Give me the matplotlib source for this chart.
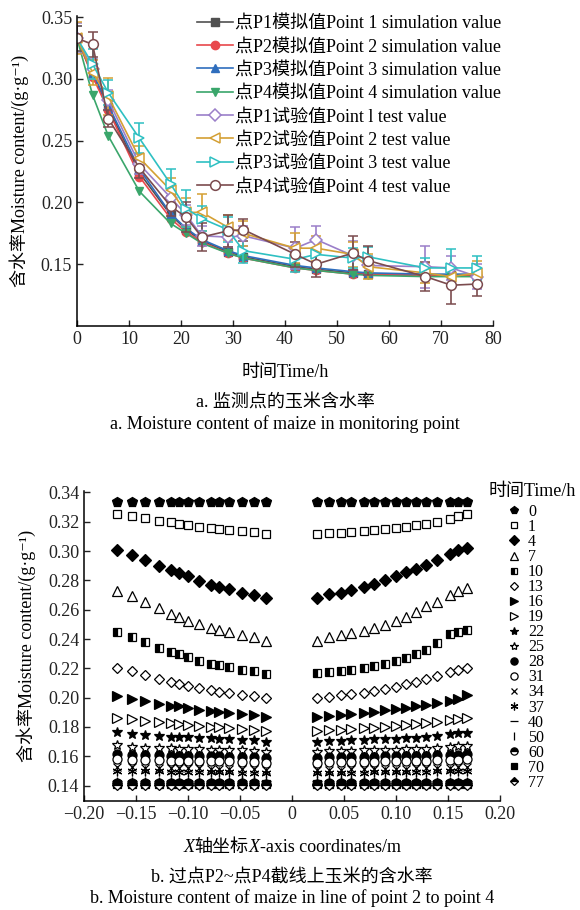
import matplotlib
matplotlib.use('Agg')
import matplotlib.pyplot as plt
from matplotlib.ticker import FuncFormatter
from matplotlib.offsetbox import TextArea, HPacker, AnchoredOffsetbox

plt.rcParams['font.family'] = ['Liberation Serif', 'Noto Sans CJK SC', 'DejaVu Serif']
plt.rcParams['axes.unicode_minus'] = True

# ---- figure a: moisture content at monitoring points ----
hours = [0, 3, 6, 12, 18, 21, 24, 29, 32, 42, 46, 53, 56, 67, 72, 77]

sim_p1 = [0.333, 0.303, 0.277, 0.224, 0.190, 0.178, 0.169, 0.160, 0.156, 0.148, 0.146, 0.143, 0.142, 0.141, 0.141, 0.141]
sim_p2 = [0.333, 0.302, 0.275, 0.221, 0.187, 0.176, 0.168, 0.159, 0.155, 0.147, 0.145, 0.142, 0.142, 0.141, 0.141, 0.141]
sim_p3 = [0.333, 0.305, 0.279, 0.227, 0.191, 0.179, 0.170, 0.161, 0.157, 0.149, 0.147, 0.144, 0.143, 0.142, 0.142, 0.142]
sim_p4 = [0.333, 0.287, 0.254, 0.209, 0.183, 0.175, 0.167, 0.159, 0.155, 0.147, 0.145, 0.142, 0.141, 0.140, 0.140, 0.140]

test_p1 = [0.333, 0.308, 0.283, 0.231, 0.204, 0.190, 0.173, 0.172, 0.173, 0.163, 0.170, 0.157, 0.149, 0.148, 0.147, 0.140]
test_p2 = [0.333, 0.305, 0.286, 0.236, 0.210, 0.192, 0.192, 0.180, 0.175, 0.163, 0.163, 0.158, 0.148, 0.143, 0.140, 0.143]
test_p3 = [0.333, 0.312, 0.289, 0.252, 0.215, 0.195, 0.187, 0.178, 0.161, 0.154, 0.158, 0.155, 0.156, 0.147, 0.147, 0.147]
test_p4 = [0.333, 0.328, 0.268, 0.228, 0.197, 0.188, 0.172, 0.177, 0.178, 0.158, 0.150, 0.159, 0.153, 0.140, 0.133, 0.134]

err_p1 = [0.012, 0.008, 0.008, 0.008, 0.010, 0.008, 0.008, 0.008, 0.008, 0.017, 0.011, 0.012, 0.008, 0.017, 0.010, 0.010]
err_p2 = [0.013, 0.010, 0.015, 0.010, 0.010, 0.012, 0.015, 0.010, 0.010, 0.012, 0.010, 0.010, 0.010, 0.008, 0.006, 0.010]
err_p3 = [0.010, 0.012, 0.010, 0.012, 0.012, 0.015, 0.010, 0.010, 0.010, 0.010, 0.010, 0.008, 0.008, 0.008, 0.015, 0.010]
err_p4 = [0.010, 0.010, 0.007, 0.008, 0.008, 0.012, 0.011, 0.013, 0.009, 0.010, 0.010, 0.014, 0.012, 0.012, 0.015, 0.010]

sim_labels = ['点P1模拟值Point 1 simulation value', '点P2模拟值Point 2 simulation value',
              '点P3模拟值Point 3 simulation value', '点P4模拟值Point 4 simulation value']
test_labels = ['点P1试验值Point l test value', '点P2试验值Point 2 test value',
               '点P3试验值Point 3 test value', '点P4试验值Point 4 test value']

# ---- figure b: moisture along the line P2-P4 ----
x_coord = [-0.168, -0.154, -0.141, -0.128, -0.116, -0.109, -0.100, -0.089, -0.078, -0.070, -0.061, -0.048, -0.037, -0.025,
           0.024, 0.036, 0.047, 0.057, 0.069, 0.079, 0.089, 0.100, 0.110, 0.119, 0.129, 0.139, 0.152, 0.160, 0.168]

m0 = [0.3335, 0.3335, 0.3335, 0.3335, 0.3335, 0.3335, 0.3335, 0.3335, 0.3335, 0.3335, 0.3335, 0.3335, 0.3335, 0.3335,
      0.3335, 0.3335, 0.3335, 0.3335, 0.3335, 0.3335, 0.3335, 0.3335, 0.3335, 0.3335, 0.3335, 0.3335, 0.3335, 0.3335, 0.3335]
m1 = [0.3255, 0.3240, 0.3225, 0.3208, 0.3197, 0.3188, 0.3179, 0.3167, 0.3160, 0.3153, 0.3147, 0.3137, 0.3131, 0.3120,
      0.3118, 0.3122, 0.3126, 0.3131, 0.3136, 0.3142, 0.3149, 0.3157, 0.3166, 0.3176, 0.3187, 0.3201, 0.3222, 0.3238, 0.3255]
m4 = [0.3010, 0.2975, 0.2941, 0.2900, 0.2868, 0.2850, 0.2827, 0.2797, 0.2770, 0.2754, 0.2740, 0.2717, 0.2701, 0.2679,
      0.2683, 0.2706, 0.2717, 0.2736, 0.2754, 0.2774, 0.2800, 0.2832, 0.2854, 0.2879, 0.2907, 0.2941, 0.2982, 0.3010, 0.3021]
m7 = [0.2731, 0.2697, 0.2656, 0.2615, 0.2571, 0.2553, 0.2526, 0.2500, 0.2478, 0.2462, 0.2446, 0.2427, 0.2411, 0.2389,
      0.2389, 0.2416, 0.2430, 0.2443, 0.2457, 0.2473, 0.2496, 0.2526, 0.2553, 0.2587, 0.2626, 0.2656, 0.2701, 0.2731, 0.2747]
m10 = [0.2446, 0.2416, 0.2377, 0.2341, 0.2313, 0.2297, 0.2280, 0.2252, 0.2233, 0.2222, 0.2210, 0.2192, 0.2181, 0.2163,
       0.2165, 0.2172, 0.2181, 0.2188, 0.2199, 0.2213, 0.2229, 0.2247, 0.2270, 0.2295, 0.2325, 0.2370, 0.2434, 0.2448, 0.2460]
m13 = [0.2205, 0.2180, 0.2155, 0.2130, 0.2105, 0.2093, 0.2078, 0.2063, 0.2050, 0.2042, 0.2033, 0.2020, 0.2010, 0.1995,
       0.1995, 0.2005, 0.2015, 0.2025, 0.2035, 0.2045, 0.2058, 0.2075, 0.2092, 0.2110, 0.2130, 0.2150, 0.2175, 0.2190, 0.2205]
m16 = [0.2010, 0.1994, 0.1978, 0.1959, 0.1946, 0.1941, 0.1930, 0.1918, 0.1909, 0.1902, 0.1898, 0.1891, 0.1882, 0.1868,
       0.1868, 0.1874, 0.1880, 0.1888, 0.1897, 0.1905, 0.1913, 0.1925, 0.1932, 0.1941, 0.1950, 0.1965, 0.1980, 0.1993, 0.2015]
m19 = [0.1861, 0.1852, 0.1841, 0.1834, 0.1827, 0.1822, 0.1816, 0.1808, 0.1802, 0.1797, 0.1793, 0.1786, 0.1781, 0.1772,
       0.1772, 0.1776, 0.1781, 0.1786, 0.1790, 0.1795, 0.1800, 0.1806, 0.1812, 0.1818, 0.1825, 0.1834, 0.1848, 0.1855, 0.1862]
m22 = [0.1765, 0.1752, 0.1748, 0.1740, 0.1735, 0.1733, 0.1730, 0.1726, 0.1722, 0.1720, 0.1718, 0.1714, 0.1710, 0.1700,
       0.1700, 0.1703, 0.1706, 0.1709, 0.1712, 0.1715, 0.1718, 0.1721, 0.1724, 0.1727, 0.1730, 0.1736, 0.1752, 0.1758, 0.1762]
m25 = [0.1674, 0.1664, 0.1660, 0.1657, 0.1654, 0.1652, 0.1650, 0.1648, 0.1646, 0.1645, 0.1644, 0.1641, 0.1638, 0.1630,
       0.1630, 0.1633, 0.1636, 0.1638, 0.1640, 0.1642, 0.1644, 0.1646, 0.1648, 0.1650, 0.1652, 0.1655, 0.1664, 0.1668, 0.1672]
m28 = [0.1615, 0.1612, 0.1610, 0.1607, 0.1605, 0.1604, 0.1603, 0.1601, 0.1600, 0.1599, 0.1598, 0.1596, 0.1594, 0.1590,
       0.1590, 0.1592, 0.1594, 0.1596, 0.1597, 0.1598, 0.1600, 0.1601, 0.1602, 0.1603, 0.1605, 0.1607, 0.1610, 0.1612, 0.1615]
m31 = [0.1580, 0.1577, 0.1575, 0.1573, 0.1571, 0.1570, 0.1569, 0.1568, 0.1567, 0.1566, 0.1565, 0.1563, 0.1561, 0.1556,
       0.1556, 0.1558, 0.1560, 0.1562, 0.1563, 0.1564, 0.1566, 0.1567, 0.1568, 0.1569, 0.1570, 0.1572, 0.1575, 0.1577, 0.1580]
m34 = [0.1528, 0.1525, 0.1523, 0.1521, 0.1520, 0.1519, 0.1518, 0.1517, 0.1516, 0.1515, 0.1514, 0.1512, 0.1510, 0.1505,
       0.1505, 0.1507, 0.1509, 0.1511, 0.1512, 0.1513, 0.1514, 0.1515, 0.1516, 0.1517, 0.1518, 0.1520, 0.1523, 0.1525, 0.1528]
m37 = [0.1502, 0.1500, 0.1498, 0.1497, 0.1496, 0.1495, 0.1494, 0.1493, 0.1492, 0.1491, 0.1490, 0.1489, 0.1487, 0.1483,
       0.1483, 0.1485, 0.1487, 0.1488, 0.1489, 0.1490, 0.1491, 0.1492, 0.1493, 0.1494, 0.1495, 0.1497, 0.1498, 0.1500, 0.1502]
m40 = [0.1433, 0.1433, 0.1432, 0.1432, 0.1432, 0.1432, 0.1432, 0.1431, 0.1431, 0.1431, 0.1431, 0.1431, 0.1430, 0.1430,
       0.1430, 0.1430, 0.1431, 0.1431, 0.1431, 0.1431, 0.1431, 0.1431, 0.1432, 0.1432, 0.1432, 0.1432, 0.1432, 0.1433, 0.1433]
m50 = [0.1426, 0.1426, 0.1425, 0.1425, 0.1425, 0.1425, 0.1425, 0.1425, 0.1425, 0.1425, 0.1425, 0.1425, 0.1424, 0.1424,
       0.1424, 0.1424, 0.1425, 0.1425, 0.1425, 0.1425, 0.1425, 0.1425, 0.1425, 0.1425, 0.1425, 0.1425, 0.1425, 0.1426, 0.1426]
m60 = [0.1416, 0.1416, 0.1416, 0.1415, 0.1415, 0.1415, 0.1415, 0.1415, 0.1415, 0.1415, 0.1415, 0.1415, 0.1415, 0.1414,
       0.1414, 0.1415, 0.1415, 0.1415, 0.1415, 0.1415, 0.1415, 0.1415, 0.1415, 0.1415, 0.1415, 0.1415, 0.1416, 0.1416, 0.1416]
m70 = [0.1411, 0.1411, 0.1410, 0.1410, 0.1410, 0.1410, 0.1410, 0.1410, 0.1410, 0.1410, 0.1410, 0.1410, 0.1410, 0.1409,
       0.1409, 0.1410, 0.1410, 0.1410, 0.1410, 0.1410, 0.1410, 0.1410, 0.1410, 0.1410, 0.1410, 0.1410, 0.1410, 0.1411, 0.1411]
m77 = [0.1404, 0.1404, 0.1403, 0.1403, 0.1403, 0.1403, 0.1403, 0.1403, 0.1403, 0.1403, 0.1403, 0.1403, 0.1403, 0.1402,
       0.1402, 0.1403, 0.1403, 0.1403, 0.1403, 0.1403, 0.1403, 0.1403, 0.1403, 0.1403, 0.1403, 0.1403, 0.1403, 0.1404, 0.1404]

time_labels = ['0', '1', '4', '7', '10', '13', '16', '19', '22', '25', '28', '31', '34', '37', '40', '50', '60', '70', '77']
profiles = [m0, m1, m4, m7, m10, m13, m16, m19, m22, m25, m28, m31, m34, m37, m40, m50, m60, m70, m77]

# marker, fill style for each time
marker_styles = [('p', 'full'), ('s', 'none'), ('D', 'full'), ('^', 'none'), ('s', 'left'),
                 ('D', 'none'), ('>', 'full'), ('>', 'none'), ('*', 'full'), ('*', 'none'),
                 ('o', 'full'), ('o', 'none'), ('x', 'full'), ((6, 2, 0), 'full'), ('_', 'full'),
                 ('|', 'full'), ('o', 'top'), ('s', 'full'), ('D', 'top')]
marker_sizes = [7, 5.5, 6, 6.5, 5.5, 5.5, 6.5, 6.5, 7.5, 7.5, 6.5, 6.5, 6, 7, 7, 7, 6.5, 5.5, 5.5]

ylabel_text = '含水率Moisture content/(g·g\u207b\u00b9)'


def style_axes(ax):
    for side in ['top', 'right']:
        ax.spines[side].set_visible(False)
    for side in ['left', 'bottom']:
        ax.spines[side].set_linewidth(1.1)
    ax.tick_params(direction='in', length=4, width=1.0, labelsize=13, colors='#222222')


fig = plt.figure(figsize=(5.8, 9.1), dpi=100)

# ---------------- top chart ----------------
ax1 = fig.add_axes([77 / 580, 1 - 326 / 910, 416 / 580, 310 / 910])
style_axes(ax1)

legend_handles = []
sim_series = [sim_p1, sim_p2, sim_p3, sim_p4]
sim_colors = ['#505050', '#e8484c', '#2f6ebd', '#3aa66b']
sim_markers = ['s', 'o', '^', 'v']
for vals, col, mk, lab in zip(sim_series, sim_colors, sim_markers, sim_labels):
    line, = ax1.plot(hours, vals, color=col, marker=mk, markersize=6, linewidth=1.2, label=lab)
    legend_handles.append(line)

test_series = [test_p1, test_p2, test_p3, test_p4]
test_errs = [err_p1, err_p2, err_p3, err_p4]
test_colors = ['#9b7fc9', '#d4a034', '#2ec0c2', '#7b4b4e']
test_markers = ['D', '<', '>', 'o']
for vals, errs, col, mk, lab in zip(test_series, test_errs, test_colors, test_markers, test_labels):
    cont = ax1.errorbar(hours, vals, yerr=errs, color=col, marker=mk, markersize=7 if mk != 'D' else 6,
                        markerfacecolor='white', markeredgewidth=1.1, linewidth=1.2,
                        capsize=3.5, elinewidth=1.2, capthick=1.2, label=lab)
    legend_handles.append(cont.lines[0])

ax1.set_xlim(0, 80)
ax1.set_ylim(0.1, 0.351)
ax1.set_xticks([0, 10, 20, 30, 40, 50, 60, 70, 80])
ax1.set_yticks([0.15, 0.20, 0.25, 0.30, 0.35])
ax1.yaxis.set_major_formatter(FuncFormatter(lambda v, p: f'{v:.2f}'))
ax1.set_xlabel('时间Time/h', fontsize=13)
ax1.xaxis.set_label_coords(0.5, -0.15)
ax1.xaxis.label.set_va('center')
ax1.set_ylabel(ylabel_text, fontsize=13)
ax1.yaxis.set_label_coords(-0.14, 0.5)
ax1.yaxis.label.set_va('center')

ax1.legend(legend_handles, sim_labels + test_labels, loc='upper left', bbox_to_anchor=(197 / 580, 1 - 15 / 910),
           bbox_transform=fig.transFigure, frameon=False, fontsize=13,
           handlelength=2.0, handletextpad=0.1, labelspacing=0.35, borderpad=0, borderaxespad=0)

fig.text(285 / 580, 1 - 402 / 910, 'a. 监测点的玉米含水率', ha='center', va='center', fontsize=13)
fig.text(285 / 580, 1 - 424 / 910, 'a. Moisture content of maize in monitoring point',
         ha='center', va='center', fontsize=13)

# ---------------- bottom chart ----------------
ax2 = fig.add_axes([84 / 580, 1 - 801 / 910, 416 / 580, 310 / 910])
style_axes(ax2)

for vals, (mk, fs), ms, lab in zip(profiles, marker_styles, marker_sizes, time_labels):
    if fs == 'none':
        ax2.plot(x_coord, vals, linestyle='none', marker=mk, markersize=ms, markerfacecolor='white',
                 markeredgecolor='black', markeredgewidth=0.9, label=lab)
    else:
        ax2.plot(x_coord, vals, linestyle='none', marker=mk, markersize=ms, fillstyle=fs, color='black',
                 markerfacecoloralt='white', markeredgewidth=0.9, label=lab)

ax2.set_xlim(-0.2, 0.2)
ax2.set_ylim(0.1295, 0.341)
ax2.set_xticks([-0.20, -0.15, -0.10, -0.05, 0, 0.05, 0.10, 0.15, 0.20])
ax2.set_yticks([0.14, 0.16, 0.18, 0.20, 0.22, 0.24, 0.26, 0.28, 0.30, 0.32, 0.34])
ax2.xaxis.set_major_formatter(FuncFormatter(lambda v, p: '0' if abs(v) < 1e-9 else f'{v:.2f}'.replace('-', '\u2212')))
ax2.yaxis.set_major_formatter(FuncFormatter(lambda v, p: f'{v:.2f}'))
ax2.set_ylabel(ylabel_text, fontsize=13)
ax2.yaxis.set_label_coords(-0.14, 0.5)
ax2.yaxis.label.set_va('center')

# x label with italic X, built from pieces
ital = dict(fontsize=13, fontstyle='italic')
plain = dict(fontsize=13)
xlab = HPacker(children=[TextArea('X', textprops=ital), TextArea('轴坐标', textprops=plain),
                         TextArea('X', textprops=ital), TextArea('-axis coordinates/m', textprops=plain)],
               align='baseline', pad=0, sep=0)
ax2.add_artist(AnchoredOffsetbox(loc='center', child=xlab, pad=0, borderpad=0, frameon=False,
                                 bbox_to_anchor=(0.5, -0.15), bbox_transform=ax2.transAxes))

fig.text(532 / 580, 1 - 492 / 910, '时间Time/h', ha='center', va='center', fontsize=13)
ax2.legend(loc='upper left', bbox_to_anchor=(508 / 580, 1 - 504 / 910), bbox_transform=fig.transFigure,
           frameon=False, fontsize=11.5, handlelength=0.8, handletextpad=0.45, labelspacing=-0.06,
           borderpad=0, borderaxespad=0, markerscale=0.8)

fig.text(292 / 580, 1 - 877 / 910, 'b. 过点P2~点P4截线上玉米的含水率', ha='center', va='center', fontsize=13)
fig.text(292 / 580, 1 - 898 / 910, 'b. Moisture content of maize in line of point 2 to point 4',
         ha='center', va='center', fontsize=13)

fig.savefig('out.png', dpi=100)
